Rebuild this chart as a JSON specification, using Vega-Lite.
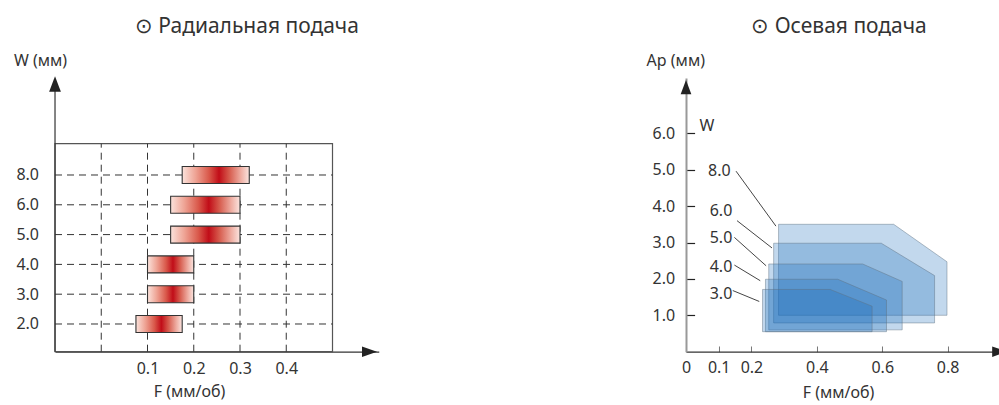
{
  "$schema": "https://vega.github.io/schema/vega-lite/v6.json",
  "background": "white",
  "padding": {"left": 13, "top": 15, "right": 0, "bottom": 12},
  "config": {
    "font": "Noto Sans",
    "view": {"stroke": null},
    "axis": {"labelFont": "Noto Sans", "labelFontSize": 16, "labelColor": "#333333", "titleFont": "Noto Sans", "titleFontSize": 16, "titleFontWeight": "normal", "titleColor": "#333333", "grid": false, "zindex": 1, "labelFlush": false, "labelOverlap": false},
    "title": {"font": "Noto Sans", "fontSize": 21, "fontWeight": "normal", "color": "#333333"},
    "text": {"font": "Noto Sans"}
  },
  "datasets": {
    "radial": [
      {"W": "8.0", "F_min": 0.175, "F_max": 0.32},
      {"W": "6.0", "F_min": 0.15, "F_max": 0.3},
      {"W": "5.0", "F_min": 0.15, "F_max": 0.3},
      {"W": "4.0", "F_min": 0.1, "F_max": 0.2},
      {"W": "3.0", "F_min": 0.1, "F_max": 0.2},
      {"W": "2.0", "F_min": 0.075, "F_max": 0.175}
    ],
    "feed_grid": [{"F": 0}, {"F": 0.1}, {"F": 0.2}, {"F": 0.3}, {"F": 0.4}],
    "axial": [
      {"W": "8.0", "F": 0.283, "Ap_top": 3.5, "Ap_bottom": 1.0},
      {"W": "8.0", "F": 0.635, "Ap_top": 3.5, "Ap_bottom": 1.0},
      {"W": "8.0", "F": 0.798, "Ap_top": 2.47, "Ap_bottom": 1.0},
      {"W": "6.0", "F": 0.268, "Ap_top": 2.98, "Ap_bottom": 0.79},
      {"W": "6.0", "F": 0.597, "Ap_top": 2.98, "Ap_bottom": 0.79},
      {"W": "6.0", "F": 0.76, "Ap_top": 2.09, "Ap_bottom": 0.79},
      {"W": "5.0", "F": 0.253, "Ap_top": 2.41, "Ap_bottom": 0.6},
      {"W": "5.0", "F": 0.54, "Ap_top": 2.41, "Ap_bottom": 0.6},
      {"W": "5.0", "F": 0.661, "Ap_top": 1.93, "Ap_bottom": 0.6},
      {"W": "4.0", "F": 0.243, "Ap_top": 1.99, "Ap_bottom": 0.55},
      {"W": "4.0", "F": 0.464, "Ap_top": 1.99, "Ap_bottom": 0.55},
      {"W": "4.0", "F": 0.613, "Ap_top": 1.42, "Ap_bottom": 0.55},
      {"W": "3.0", "F": 0.234, "Ap_top": 1.71, "Ap_bottom": 0.55},
      {"W": "3.0", "F": 0.441, "Ap_top": 1.71, "Ap_bottom": 0.55},
      {"W": "3.0", "F": 0.569, "Ap_top": 1.25, "Ap_bottom": 0.55}
    ],
    "callouts": [
      {"W": "8.0", "label_F": 0.102, "label_Ap": 4.97, "F1": 0.153, "Ap1": 4.96, "F2": 0.275, "Ap2": 3.45},
      {"W": "6.0", "label_F": 0.107, "label_Ap": 3.87, "F1": 0.156, "Ap1": 3.6, "F2": 0.263, "Ap2": 2.85},
      {"W": "5.0", "label_F": 0.107, "label_Ap": 3.12, "F1": 0.148, "Ap1": 3.14, "F2": 0.245, "Ap2": 2.36},
      {"W": "4.0", "label_F": 0.107, "label_Ap": 2.34, "F1": 0.148, "Ap1": 2.38, "F2": 0.227, "Ap2": 1.95},
      {"W": "3.0", "label_F": 0.107, "label_Ap": 1.59, "F1": 0.143, "Ap1": 1.68, "F2": 0.224, "Ap2": 1.38}
    ]
  },
  "spacing": 267,
  "hconcat": [
    {
      "width": 323.75,
      "height": 273.7,
      "title": {"text": "⊙ Радиальная подача", "dx": 30, "offset": 16},
      "resolve": {"scale": {"y": "independent"}, "axis": {"y": "independent"}},
      "layer": [
        {
          "data": {"values": [{}]},
          "mark": {"type": "rect", "fillOpacity": 0, "stroke": "#555555", "strokeWidth": 1.2},
          "encoding": {
            "x": {"datum": -0.1, "type": "quantitative", "scale": {"domain": [-0.1, 0.6], "nice": false, "zero": false},
              "axis": {"values": [0.1, 0.2, 0.3, 0.4], "format": ".1f", "ticks": false, "domainColor": "#333333", "domainWidth": 1.2, "labelPadding": 8.5, "title": "F (мм/об)", "titleX": 134, "titleY": 40, "titleAlign": "center", "titleBaseline": "middle"}},
            "x2": {"datum": 0.5},
            "y": {"datum": 0, "type": "quantitative", "scale": {"domain": [0, 1], "nice": false}, "axis": null},
            "y2": {"datum": 0.76}
          }
        },
        {
          "data": {"name": "feed_grid"},
          "mark": {"type": "rule", "stroke": "#333333", "strokeWidth": 1, "strokeDash": [7, 5]},
          "encoding": {
            "x": {"field": "F", "type": "quantitative", "title": "F (мм/об)"},
            "y": {"datum": 0, "type": "quantitative", "scale": {"domain": [0, 1], "nice": false}, "axis": null},
            "y2": {"datum": 0.76}
          }
        },
        {
          "data": {"name": "radial"},
          "mark": {"type": "rule", "stroke": "#333333", "strokeWidth": 1, "strokeDash": [7, 5]},
          "encoding": {
            "x": {"datum": -0.1, "type": "quantitative"},
            "x2": {"datum": 0.5},
            "y": {"field": "W", "type": "ordinal", "scale": {"type": "point", "domain": ["8.0", "6.0", "5.0", "4.0", "3.0", "2.0"], "range": [97, 246], "padding": 0},
              "axis": {"ticks": false, "domain": false, "labelPadding": 16.5, "title": "W (мм)", "titleAngle": 0, "titleX": -15, "titleY": -17.3, "titleAlign": "center", "titleBaseline": "middle"}}
          }
        },
        {
          "data": {"name": "radial"},
          "mark": {"type": "bar", "size": 17, "stroke": "#333333", "strokeWidth": 1.1,
            "fill": {"gradient": "linear", "x1": 0, "y1": 0, "x2": 1, "y2": 0, "stops": [
              {"offset": 0, "color": "#fbe3dc"},
              {"offset": 0.2, "color": "#eea394"},
              {"offset": 0.4, "color": "#d9584a"},
              {"offset": 0.55, "color": "#c10d18"},
              {"offset": 0.7, "color": "#d65a4c"},
              {"offset": 0.88, "color": "#efb0a5"},
              {"offset": 1, "color": "#fbe5e0"}
            ]}},
          "encoding": {
            "x": {"field": "F_min", "type": "quantitative", "title": "F (мм/об)"},
            "x2": {"field": "F_max"},
            "y": {"field": "W", "type": "ordinal", "scale": {"type": "point", "domain": ["8.0", "6.0", "5.0", "4.0", "3.0", "2.0"], "range": [97, 246], "padding": 0}, "axis": null}
          }
        },
        {
          "data": {"values": [{}]},
          "mark": {"type": "rule", "stroke": "#333333", "strokeWidth": 1.2},
          "encoding": {
            "x": {"datum": -0.1, "type": "quantitative"},
            "y": {"datum": 0, "type": "quantitative", "scale": {"domain": [0, 1], "nice": false}, "axis": null},
            "y2": {"datum": 0.96}
          }
        },
        {
          "data": {"values": [{}]},
          "mark": {"type": "point", "shape": "M0,-1L0.75,1L-0.75,1Z", "size": 246, "filled": true, "color": "#222222", "opacity": 1},
          "encoding": {
            "x": {"datum": -0.1, "type": "quantitative"},
            "y": {"datum": 0.978, "type": "quantitative", "scale": {"domain": [0, 1], "nice": false}, "axis": null}
          }
        },
        {
          "data": {"values": [{}]},
          "mark": {"type": "point", "shape": "M1,0L-1,0.7L-1,-0.7Z", "size": 225, "filled": true, "color": "#222222", "opacity": 1},
          "encoding": {
            "x": {"datum": 0.58, "type": "quantitative"},
            "y": {"datum": 0, "type": "quantitative", "scale": {"domain": [0, 1], "nice": false}, "axis": null}
          }
        }
      ]
    },
    {
      "width": 314,
      "height": 273.7,
      "title": {"text": "⊙ Осевая подача", "dx": -4, "offset": 16},
      "layer": [
        {
          "data": {"name": "axial"},
          "mark": {"type": "area", "fill": "#1469b9", "fillOpacity": 0.26, "stroke": "#5f6f80", "strokeOpacity": 0.45, "strokeWidth": 1},
          "encoding": {
            "x": {"field": "F", "type": "quantitative", "scale": {"domain": [0, 0.96], "nice": false, "zero": false},
              "axis": {"values": [0, 0.1, 0.2, 0.4, 0.6, 0.8], "labelExpr": "datum.value == 0 ? '0' : format(datum.value, '.1f')", "tickSize": -5.7, "tickColor": "#777777", "tickWidth": 1, "domainColor": "#333333", "domainWidth": 1.3, "labelPadding": 13.5, "title": "F (мм/об)", "titleX": 152, "titleY": 40.5, "titleAlign": "center", "titleBaseline": "middle"}},
            "y": {"field": "Ap_top", "type": "quantitative", "scale": {"domain": [0, 7.52], "nice": false, "zero": false},
              "axis": {"values": [1, 2, 3, 4, 5, 6], "format": ".1f", "tickSize": -8.6, "tickColor": "#222222", "tickWidth": 1.2, "domainColor": "#999999", "domainWidth": 2, "labelPadding": 20, "title": "Ap (мм)", "titleAngle": 0, "titleX": -10.7, "titleY": -17.3, "titleAlign": "center", "titleBaseline": "middle"}},
            "y2": {"field": "Ap_bottom"},
            "detail": {"field": "W"}
          }
        },
        {
          "data": {"name": "callouts"},
          "mark": {"type": "rule", "stroke": "#444444", "strokeWidth": 1},
          "encoding": {
            "x": {"field": "F1", "type": "quantitative", "title": "F (мм/об)"},
            "x2": {"field": "F2"},
            "y": {"field": "Ap1", "type": "quantitative", "title": "Ap (мм)"},
            "y2": {"field": "Ap2"}
          }
        },
        {
          "data": {"name": "callouts"},
          "mark": {"type": "text", "fontSize": 16, "color": "#333333", "align": "center", "baseline": "middle"},
          "encoding": {
            "x": {"field": "label_F", "type": "quantitative", "title": "F (мм/об)"},
            "y": {"field": "label_Ap", "type": "quantitative", "title": "Ap (мм)"},
            "text": {"field": "W"}
          }
        },
        {
          "data": {"values": [{"label": "W", "F": 0.064, "Ap": 6.2}]},
          "mark": {"type": "text", "fontSize": 16, "color": "#333333", "align": "center", "baseline": "middle"},
          "encoding": {
            "x": {"field": "F", "type": "quantitative", "title": "F (мм/об)"},
            "y": {"field": "Ap", "type": "quantitative", "title": "Ap (мм)"},
            "text": {"field": "label"}
          }
        },
        {
          "data": {"values": [{}]},
          "mark": {"type": "point", "shape": "M0,-1L0.75,1L-0.75,1Z", "size": 204, "filled": true, "color": "#222222", "opacity": 1},
          "encoding": {
            "x": {"datum": 0, "type": "quantitative"},
            "y": {"datum": 7.27, "type": "quantitative"}
          }
        },
        {
          "data": {"values": [{}]},
          "mark": {"type": "point", "shape": "M1,0L-1,0.7L-1,-0.7Z", "size": 225, "filled": true, "color": "#222222", "opacity": 1},
          "encoding": {
            "x": {"datum": 0.959, "type": "quantitative"},
            "y": {"datum": 0, "type": "quantitative"}
          }
        }
      ]
    }
  ]
}
